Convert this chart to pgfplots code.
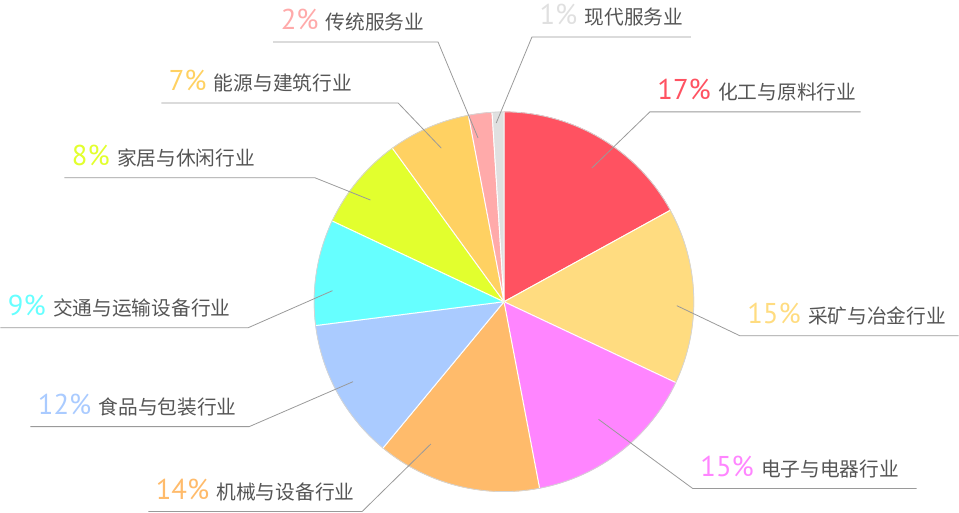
\documentclass[border=0pt]{standalone}
\usepackage{fontspec}
\usepackage{pgfplots}
\usepackage{pgfplotstable}
\pgfplotsset{compat=1.18}

\newfontfamily\cjk{Noto Sans CJK SC}
\newfontfamily\numfont{PT Sans}

\definecolor{cRed}{HTML}{FF5261}
\definecolor{cYellow}{HTML}{FFDC80}
\definecolor{cMagenta}{HTML}{FF85FF}
\definecolor{cOrange}{HTML}{FFBB6B}
\definecolor{cBlue}{HTML}{AACBFF}
\definecolor{cCyan}{HTML}{66FFFF}
\definecolor{cLime}{HTML}{E2FF2E}
\definecolor{cGold}{HTML}{FFD162}
\definecolor{cPink}{HTML}{FFAAAA}
\definecolor{cGrey}{HTML}{E0E0E0}
\definecolor{txt}{HTML}{555555}
\definecolor{leader}{HTML}{9A9A9A}
\definecolor{rim}{HTML}{D4D4D4}

% an empty mark: the scatter code below does all the drawing
\pgfdeclareplotmark{blank}{}

\def\cx{504}
\def\cy{211}
\def\R{142.5pt}

% share (%), slice colour, sector, leader start (angle, radius in px from centre),
% elbow of the leader (x, y in px) and the far end of its shelf line
\pgfplotstableread[col sep=comma]{
share,col,name,la,lr,kx,ky,ex
17,cRed,化工与原料行业,56.7,160,650,401,861
15,cYellow,采矿与冶金行业,-1.3,173,740,177,959
15,cMagenta,电子与电器行业,-51.2,151,693,24,917
14,cOrange,机械与设备行业,-117.2,160,362,1,148
12,cBlue,食品与包装行业,-152.1,171,249,86,30
9,cCyan,交通与运输设备行业,176.3,172,248,185,0
8,cLime,家居与休闲行业,142.7,168,315,335,64
7,cGold,能源与建筑行业,112.2,166,398,410,161
2,cPink,传统服务业,99,166,438,471,273
1,cGrey,现代服务业,92.5,179,532,476,691
}\sectors

% slices run clockwise from twelve o'clock
\pgfplotstablecreatecol[create col/expr accum={\pgfmathaccuma - 3.6*\thisrow{share}}{90}]{stop}\sectors
\pgfplotstablecreatecol[create col/expr={\thisrow{stop} + 3.6*\thisrow{share}}]{start}\sectors
\pgfplotstablecreatecol[create col/expr={\pgfplotstablerow}]{idx}\sectors
\pgfplotstablecreatecol[create col/expr={\cx}]{px}\sectors
\pgfplotstablecreatecol[create col/expr={\cy}]{py}\sectors

% fetch the fields of row \k
\newcommand\fetchrow{%
  \pgfplotstablegetelem{\k}{col}\of\sectors\let\clr\pgfplotsretval
  \pgfplotstablegetelem{\k}{name}\of\sectors\let\nm\pgfplotsretval
  \pgfplotstablegetelem{\k}{share}\of\sectors\let\pct\pgfplotsretval
  \pgfplotstablegetelem{\k}{start}\of\sectors\let\sa\pgfplotsretval
  \pgfplotstablegetelem{\k}{stop}\of\sectors\let\ea\pgfplotsretval
  \pgfplotstablegetelem{\k}{la}\of\sectors\let\la\pgfplotsretval
  \pgfplotstablegetelem{\k}{lr}\of\sectors\let\lr\pgfplotsretval
  \pgfplotstablegetelem{\k}{kx}\of\sectors\let\kx\pgfplotsretval
  \pgfplotstablegetelem{\k}{ky}\of\sectors\let\ky\pgfplotsretval
  \pgfplotstablegetelem{\k}{ex}\of\sectors\let\ex\pgfplotsretval
}

\begin{document}
\begin{tikzpicture}
\begin{axis}[
  x=0.75pt, y=0.75pt,
  xmin=0, xmax=959, ymin=0, ymax=513,
  hide axis, clip=false,
]
\path (axis cs:0,0) rectangle (axis cs:959,513);

% pie slices
\addplot[scatter, only marks, mark=blank,
  point meta=\coordindex,
  visualization depends on={\thisrow{idx} \as \ix},
  scatter/@pre marker code/.code={%
    \pgfmathtruncatemacro\k{\ix}\fetchrow
    \fill[\clr] (0pt,0pt) -- (\sa:\R) arc[start angle=\sa, end angle=\ea, radius=\R] -- cycle;
    \draw[white, line width=0.7pt, line join=round] (\ea:\R) -- (0pt,0pt) -- (\sa:\R);
    \draw[rim, line width=0.6pt] (\sa:\R) arc[start angle=\sa, end angle=\ea, radius=\R];
    \begin{scope}},
  scatter/@post marker code/.code={\end{scope}},
] table[x=px, y=py] {\sectors};

% leader lines and labels
\addplot[scatter, only marks, mark=blank,
  point meta=\coordindex,
  visualization depends on={\thisrow{idx} \as \ix},
  scatter/@pre marker code/.code={%
    \pgfmathtruncatemacro\k{\ix}\fetchrow
    \pgfmathsetmacro\dx{(\cx+\lr*cos(\la)-\kx)*0.75}%
    \pgfmathsetmacro\dy{(\cy+\lr*sin(\la)-\ky)*0.75}%
    \pgfmathsetmacro\hx{(\ex-\kx)*0.75}%
    \pgfmathsetmacro\lx{(min(\kx,\ex)-\kx)*0.75+5.5}%
    \draw[leader, line width=0.6pt] (\dx pt,\dy pt) -- (0pt,0pt) -- (\hx pt,0pt);
    \node[anchor=base west, inner sep=0pt] at (\lx pt,9pt)
      {{\numfont\fontsize{21.5}{22}\selectfont\color{\clr}\pct\%}\hspace{5.5pt}%
       {\cjk\fontsize{14.8}{15}\selectfont\color{txt}\nm}};
    \begin{scope}},
  scatter/@post marker code/.code={\end{scope}},
] table[x=kx, y=ky] {\sectors};
\end{axis}
\end{tikzpicture}
\end{document}
